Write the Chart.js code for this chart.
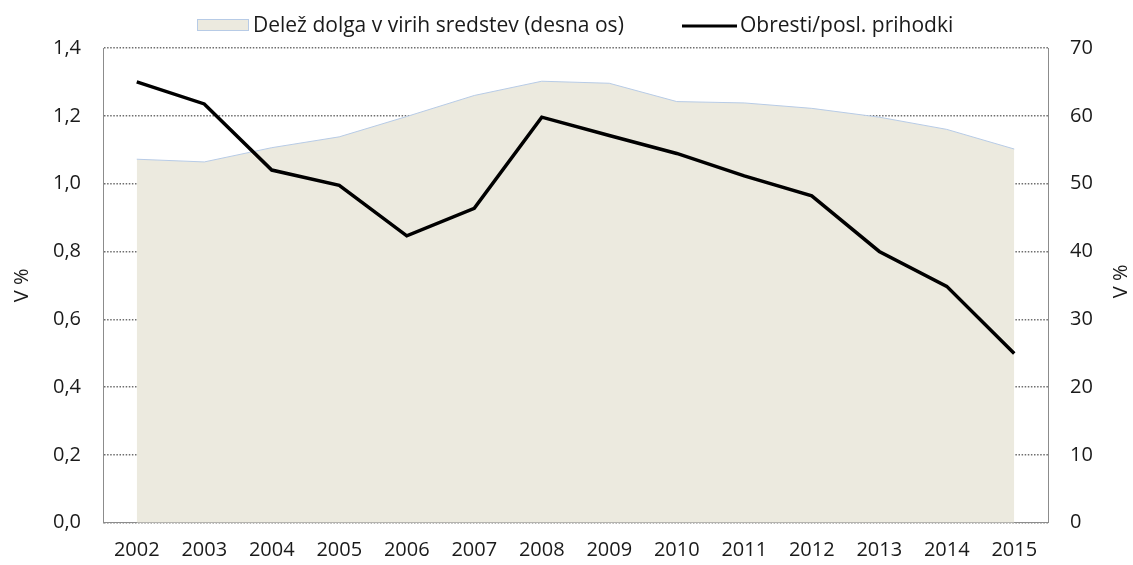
<!DOCTYPE html>
<html>
<head>
<meta charset="utf-8">
<style>
  html, body { margin: 0; padding: 0; background: #fff; }
  #wrap { width: 1133px; height: 565px; }
</style>
</head>
<body>
<div id="wrap"><canvas id="chart" width="1133" height="565"></canvas></div>

<script src="https://cdn.jsdelivr.net/npm/chart.js@4/dist/chart.umd.min.js"></script>
<script>
// data
var years = ['2002', '2003', '2004', '2005', '2006', '2007', '2008', '2009', '2010', '2011', '2012', '2013', '2014', '2015'];
var obresti = [1.30, 1.235, 1.04, 0.995, 0.846, 0.927, 1.196, 1.142, 1.089, 1.023, 0.964, 0.80, 0.697, 0.499];
var delez = [53.6, 53.2, 55.3, 56.9, 59.9, 63.0, 65.1, 64.8, 62.1, 61.9, 61.1, 59.8, 58.0, 55.1];

var labelDelez = 'Delež dolga v virih sredstev (desna os)';
var labelObresti = 'Obresti/posl. prihodki';
var axisTitle = 'V %';

var areaFill = '#ECEADF';
var areaLine = '#B7CBE6';
var gridColor = '#6e6e6e';
var axisColor = '#8c8c8c';
var textColor = '#1a1a1a';

Chart.defaults.font.family = "'Open Sans', sans-serif";
Chart.defaults.font.size = 20;
Chart.defaults.color = textColor;

function comma(v) { return v.toFixed(1).replace('.', ','); }

// legend + right axis title (drawn by hand to keep the original spacing)
var extras = {
    id: 'extras',
    afterDraw: function (chart) {
        var ctx = chart.ctx;
        var area = chart.chartArea;
        ctx.save();
        ctx.font = "21px 'Open Sans', sans-serif";
        ctx.textBaseline = 'middle';

        ctx.fillStyle = areaFill;
        ctx.fillRect(197, 19.5, 51, 11);
        ctx.strokeStyle = areaLine;
        ctx.lineWidth = 1;
        ctx.strokeRect(197.5, 19.5, 51, 11);
        ctx.fillStyle = textColor;
        ctx.fillText(labelDelez, 253, 26);

        ctx.strokeStyle = '#000';
        ctx.lineWidth = 3;
        ctx.beginPath();
        ctx.moveTo(682, 26);
        ctx.lineTo(737, 26);
        ctx.stroke();
        ctx.fillText(labelObresti, 740, 26);

        // right title reads bottom-to-top like the left one
        ctx.font = "20px 'Open Sans', sans-serif";
        ctx.textAlign = 'center';
        ctx.translate(1121, (area.top + area.bottom) / 2 - 4);
        ctx.rotate(-Math.PI / 2);
        ctx.fillText(axisTitle, 0, 0);
        ctx.restore();
    }
};

new Chart(document.getElementById('chart'), {
    type: 'line',
    data: {
        labels: years,
        datasets: [{
            label: labelObresti,
            data: obresti,
            yAxisID: 'y',
            borderColor: '#000',
            borderWidth: 3.5,
            pointRadius: 0,
            fill: false,
            order: 0
        }, {
            label: labelDelez,
            data: delez,
            yAxisID: 'y1',
            borderColor: areaLine,
            backgroundColor: areaFill,
            borderWidth: 1,
            pointRadius: 0,
            fill: 'origin',
            order: 1
        }]
    },
    options: {
        responsive: false,
        animation: false,
        layout: { padding: { top: 48, left: 0, right: 0, bottom: 0 } },
        plugins: {
            legend: { display: false },
            tooltip: { enabled: false }
        },
        scales: {
            x: {
                offset: true,
                grid: { display: false, drawTicks: false },
                border: { display: true, color: axisColor, width: 1 },
                ticks: { padding: 16, maxRotation: 0, autoSkip: false },
                afterFit: function (s) { s.height = 42.3; }
            },
            y: {
                position: 'left',
                min: 0,
                max: 1.4,
                ticks: { stepSize: 0.2, padding: 22, callback: function (v) { return comma(v); } },
                grid: { color: gridColor, lineWidth: 1.5, drawTicks: false },
                border: { display: true, color: axisColor, width: 1, dash: [1.5, 1.6] },
                title: { display: true, text: axisTitle, padding: { top: 10, bottom: 0 } },
                afterFit: function (s) { s.width = 103; }
            },
            y1: {
                position: 'right',
                min: 0,
                max: 70,
                ticks: { stepSize: 10, padding: 22 },
                grid: { display: false, drawTicks: false },
                border: { display: true, color: axisColor, width: 1 },
                afterFit: function (s) { s.width = 85; }
            }
        }
    },
    plugins: [extras]
});
</script>
</body>
</html>
